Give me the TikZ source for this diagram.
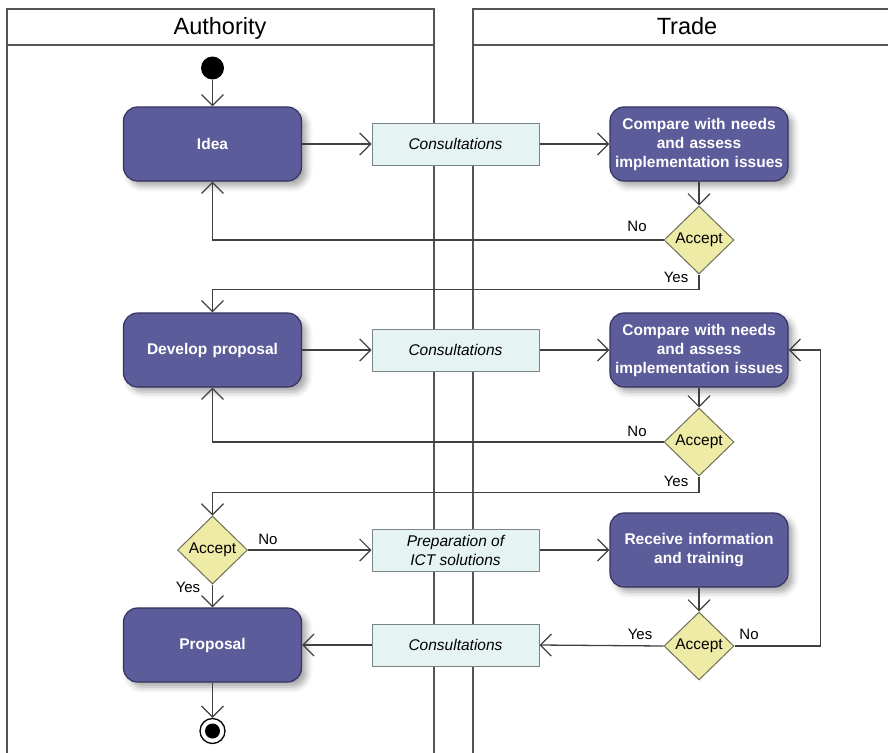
\documentclass[tikz,border=0pt]{standalone}
\usepackage{fontspec}
\setmainfont{Liberation Sans}
\usetikzlibrary{arrows.meta,shapes.geometric,shadows.blur}
\definecolor{actfill}{HTML}{5D5C9B}
\definecolor{actdraw}{HTML}{34335F}
\definecolor{consfill}{HTML}{E5F3F2}
\definecolor{consdraw}{HTML}{7A8585}
\definecolor{decfill}{HTML}{EEEBA6}
\definecolor{decdraw}{HTML}{6F6F5A}
\definecolor{linec}{HTML}{404040}
\definecolor{lanec}{HTML}{555555}
\tikzset{
  act/.style={draw=actdraw, fill=actfill, line width=1.2pt, rounded corners=14pt,
    minimum width=178pt, minimum height=74pt, text width=170pt, inner sep=4pt,
    text=white, font=\fontsize{15.5}{19}\selectfont\bfseries, align=center,
    blur shadow={shadow xshift=5pt, shadow yshift=-5pt, shadow blur radius=6pt, shadow opacity=35}},
  cons/.style={draw=consdraw, fill=consfill, line width=1pt, minimum width=167pt,
    minimum height=42pt, inner sep=2pt, font=\fontsize{15.5}{19}\selectfont\itshape, align=center},
  dec/.style={diamond, draw=decdraw, fill=decfill, line width=1pt, minimum width=70pt,
    minimum height=68pt, inner sep=0pt, font=\fontsize{15.5}{18}\selectfont},
  flow/.style={draw=linec, line width=1.3pt, -{Straight Barb[length=11pt,width=22pt,line width=1.2pt]}},
  lane/.style={draw=lanec, line width=1.5pt},
  hdr/.style={font=\fontsize{23.5}{26}\selectfont},
  lbl/.style={font=\fontsize{15}{18}\selectfont, inner sep=0pt},
}
\begin{document}
\begin{tikzpicture}[x=1pt,y=-1pt]
\useasboundingbox (0,0) rectangle (888,752);
% swimlanes
\draw[lane] (7,760) -- (7,9) -- (434,9) -- (434,760);
\draw[lane] (7,45) -- (434,45);
\draw[lane] (895,9) -- (473,9) -- (473,760);
\draw[lane] (473,45) -- (895,45);
\node[hdr, anchor=base] (hA) at (220,35) {Authority};
\node[hdr, anchor=base] (hT) at (687,35) {Trade};
% nodes
\node[circle, fill=black, minimum size=23pt, inner sep=0pt] (start) at (212.5,68) {};
\node[act] (idea) at (212.5,144) {Idea};
\node[cons] (c1) at (455.5,144) {Consultations};
\node[act] (cmp1) at (699,144) {Compare with needs\\and assess\\implementation issues};
\node[dec] (d1) at (699,240) {Accept};
\node[act] (dev) at (212.5,350) {Develop proposal};
\node[cons] (c2) at (455.5,350) {Consultations};
\node[act] (cmp2) at (699,350) {Compare with needs\\and assess\\implementation issues};
\node[dec] (d2) at (699,442) {Accept};
\node[dec] (d3) at (212.5,550) {Accept};
\node[cons] (prep) at (455.5,550) {Preparation of\\ICT solutions};
\node[act] (recv) at (699,550) {Receive information\\and training};
\node[dec] (d4) at (699,646) {Accept};
\node[act] (prop) at (212.5,645) {Proposal};
\node[cons] (c3) at (455.5,645) {Consultations};
\node[circle, draw=black, line width=1.3pt, fill=white, minimum size=25pt, inner sep=0pt,
  path picture={\fill[black] (path picture bounding box.center) circle (7.5pt);}] (end) at (212.5,731) {};
% labels
\node[lbl] (n1) at (637,226) {No};
\node[lbl] (y1) at (676,277) {Yes};
\node[lbl] (n2) at (637,431) {No};
\node[lbl] (y2) at (676,481) {Yes};
\node[lbl] (n3) at (268,539) {No};
\node[lbl] (y3) at (188,587) {Yes};
\node[lbl] (y4) at (640,634) {Yes};
\node[lbl] (n4) at (749,634) {No};
% connectors
\draw[flow] (start) -- (idea);
\draw[flow] (idea) -- (c1);
\draw[flow] (c1) -- (cmp1);
\draw[flow] (cmp1) -- (d1);
\draw[flow] (d1.west) -| (idea.south);
\draw[flow] (d1.south) -- ++(0,15) -| (dev.north);
\draw[flow] (dev) -- (c2);
\draw[flow] (c2) -- (cmp2);
\draw[flow] (cmp2) -- (d2);
\draw[flow] (d2.west) -| (dev.south);
\draw[flow] (d2.south) -- ++(0,16) -| (d3.north);
\draw[flow] (d3.east) -- (prep.west);
\draw[flow] (d3.south) -- (prop.north);
\draw[flow] (prep) -- (recv);
\draw[flow] (recv) -- (d4);
\draw[flow] (d4.west) -- (c3.east);
\draw[flow] (c3.west) -- (prop.east);
\draw[flow] (d4.east) -- ++(86,0) |- (cmp2.east);
\draw[flow] (prop) -- (end);
\end{tikzpicture}
\end{document}
